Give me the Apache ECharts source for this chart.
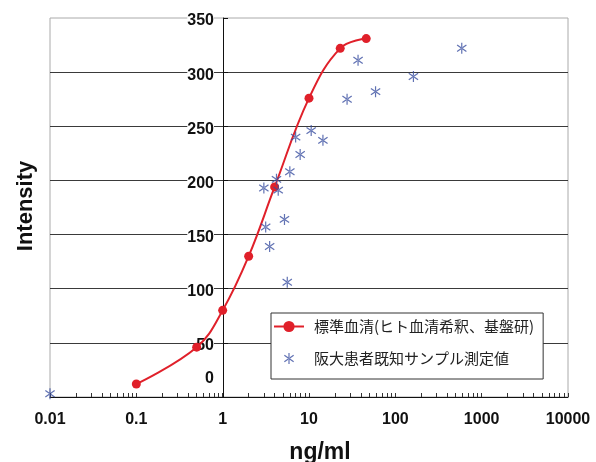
<!DOCTYPE html>
<html>
<head>
<meta charset="utf-8">
<script src="https://cdn.jsdelivr.net/npm/echarts@6/dist/echarts.min.js"></script>
<style>html,body{margin:0;padding:0;background:#fff}#c{width:596px;height:462px}</style>
</head>
<body>
<div id="c"></div>
<script>
// Standard serum (red line)
const stdConc = [0.1, 0.5, 1, 2, 4, 10, 23, 46];
const stdIntensity = [12, 46, 80, 130, 194, 276, 322, 331];
// Patient samples (blue stars)
const sampleConc = [0.01, 3.0, 4.2, 4.4, 3.15, 3.5, 5.2, 5.6, 6.0, 7.0, 7.9, 10.6, 14.5, 27.6, 37, 59, 162, 588];
const sampleIntensity = [3, 193, 201, 191, 157, 139, 164, 106, 208, 240, 224, 246, 237, 275, 311, 282, 296, 322];
// Axis ticks / labels
const xTickLabels = ['0.01', '0.1', '1', '10', '100', '1000', '10000'];
const legendNames = ['標準血清(ヒト血清希釈、基盤研)', '阪大患者既知サンプル測定値'];
const xTitle = 'ng/ml';
const yTitle = 'Intensity';

const minorTicks = [];
for (let e = -2; e <= 3; e++) {
  for (let m = 1; m <= 9; m++) minorTicks.push(m * Math.pow(10, e));
}
minorTicks.push(10000);

const starShape = 'M4.4 0 L5.6 0 L5.6 11 L4.4 11 Z M0 2.8 L0.7 1.8 L10 8.2 L9.3 9.2 Z M10 2.8 L9.3 1.8 L0 8.2 L0.7 9.2 Z';
const starPath = 'path://' + starShape;
const starLegendPath = 'path://' + starShape + ' M-10 -1.5 L-10 -1.5 Z M20 12.5 L20 12.5 Z';
const FONT = 'Arial, "Liberation Sans", sans-serif';

const chart = echarts.init(document.getElementById('c'), null, {renderer: 'canvas'});
chart.setOption({
  animation: false,
  backgroundColor: '#fff',
  grid: {left: 50, right: 28, top: 18, bottom: 65, show: true, borderColor: '#aaa', borderWidth: 1},
  xAxis: {
    type: 'log', logBase: 10, min: 0.01, max: 10000,
    axisLine: {show: true, lineStyle: {color: '#111', width: 1}},
    axisTick: {show: true, inside: true, length: 4, customValues: minorTicks, lineStyle: {color: '#333'}},
    axisLabel: {
      fontSize: 16, fontWeight: 'bold', fontFamily: FONT, color: '#111', margin: 15,
      formatter: v => xTickLabels[Math.round(Math.log10(v)) + 2]
    },
    splitLine: {show: false}
  },
  yAxis: {
    type: 'value', min: 0, max: 350, interval: 50, position: 'left', offset: -173,
    axisLine: {show: true, lineStyle: {color: '#111', width: 1}},
    axisTick: {show: true, inside: true, length: 5, lineStyle: {color: '#111'}},
    splitLine: {show: true, showMaxLine: false, lineStyle: {color: '#3a3a3a', width: 1}},
    axisLabel: {
      margin: 9,
      formatter: v => v === 0 ? '{z|0}' : '{a|' + v + '}',
      rich: {
        a: {fontSize: 16, fontWeight: 'bold', fontFamily: FONT, color: '#111', backgroundColor: '#fff', padding: [6, 0, 0, 0]},
        z: {fontSize: 16, fontWeight: 'bold', fontFamily: FONT, color: '#111', padding: [0, 0, 37, 0]}
      }
    }
  },
  legend: {
    orient: 'vertical', left: 271, top: 313,
    data: [{name: legendNames[0]}, {name: legendNames[1], icon: starLegendPath}],
    itemWidth: 30, itemHeight: 14, itemGap: 17,
    padding: [6, 9, 13, 2],
    borderColor: '#333', borderWidth: 1, backgroundColor: '#fff',
    textStyle: {fontSize: 15, fontFamily: '"Noto Sans CJK JP", sans-serif', color: '#222', padding: [0, 0, 0, 5]}
  },
  graphic: [
    {type: 'text', x: 26, y: 206, rotation: Math.PI / 2,
     style: {text: yTitle, font: 'bold 22px ' + FONT, fill: '#111', align: 'center', verticalAlign: 'middle', x: 0, y: 0}},
    {type: 'text', x: 320, y: 453,
     style: {text: xTitle, font: 'bold 23px ' + FONT, fill: '#111', align: 'center', verticalAlign: 'middle', x: 0, y: 0}}
  ],
  series: [
    {
      name: legendNames[0], type: 'line', smooth: 0.4,
      data: stdConc.map((c, i) => [c, stdIntensity[i]]),
      symbol: 'circle', symbolSize: 9,
      lineStyle: {color: '#e0202a', width: 2},
      itemStyle: {color: '#e0202a'},
      z: 3
    },
    {
      name: legendNames[1], type: 'scatter',
      data: sampleConc.map((c, i) => [c, sampleIntensity[i]]),
      symbol: starPath, symbolSize: [10, 11],
      itemStyle: {color: '#3a4fa0'},
      z: 4
    }
  ]
});
</script>
</body>
</html>
